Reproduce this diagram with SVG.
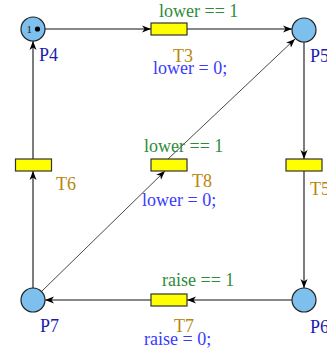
<svg xmlns="http://www.w3.org/2000/svg" width="327" height="348" viewBox="0 0 327 348">
<style>
.pl{fill:#7dbfed;stroke:#222;stroke-width:1.2}
.tr{fill:#ffff00;stroke:#333;stroke-width:1.2}
.ed{stroke:#111;stroke-width:1.1;fill:none;marker-end:url(#ah)}
.dg{stroke:#333;stroke-width:0.9;fill:none;marker-end:url(#ah)}
text{font-family:"Liberation Serif","Times New Roman",serif;font-size:18px}
.pn{fill:#1c1cb0}
.tn{fill:#b8860b}
.gd{fill:#2e8b3a}
.up{fill:#3a3aff}
</style>
<defs>
<marker id="ah" markerWidth="10" markerHeight="8" refX="9" refY="4" orient="auto" markerUnits="userSpaceOnUse">
<path d="M0,0.5 L9,4 L0,7.5 L2.5,4 z" fill="#000"/>
</marker>
</defs>
<g id="edges">
<line class="ed" x1="45" y1="29" x2="151" y2="29"/>
<line class="ed" x1="187" y1="29" x2="292" y2="29"/>
<line class="ed" x1="304" y1="42" x2="304" y2="159"/>
<line class="ed" x1="304" y1="171" x2="304" y2="288"/>
<line class="ed" x1="292" y1="300" x2="187" y2="300"/>
<line class="ed" x1="151" y1="300" x2="45" y2="300"/>
<line class="ed" x1="33" y1="288" x2="33" y2="171"/>
<line class="ed" x1="33" y1="159" x2="33" y2="41"/>
<line class="dg" x1="42" y1="291" x2="165" y2="171"/>
<line class="dg" x1="168" y1="159" x2="295" y2="39"/>
</g>
<g id="P4"><circle class="pl" cx="33" cy="29" r="12"/><text x="26.5" y="33" style="font-size:11px;fill:#222">1</text><circle cx="37.5" cy="29" r="2.6" fill="#000"/><text class="pn" x="39" y="61">P4</text></g>
<g id="P5"><circle class="pl" cx="304" cy="30" r="12"/><text class="pn" x="310" y="62">P5</text></g>
<g id="P6"><circle class="pl" cx="304" cy="300" r="12"/><text class="pn" x="310" y="333">P6</text></g>
<g id="P7"><circle class="pl" cx="33" cy="300" r="12"/><text class="pn" x="40" y="332">P7</text></g>
<g id="T3"><rect class="tr" x="151" y="23" width="36" height="12"/><text class="gd" x="159" y="17">lower == 1</text><text class="tn" x="173" y="62">T3</text><text class="up" x="153" y="74">lower = 0;</text></g>
<g id="T5"><rect class="tr" x="286" y="159" width="36" height="12"/><text class="tn" x="310" y="195">T5</text></g>
<g id="T6"><rect class="tr" x="15.5" y="159" width="36" height="12"/><text class="tn" x="56" y="190">T6</text></g>
<g id="T7"><rect class="tr" x="151" y="294" width="36" height="12"/><text class="gd" x="162" y="286">raise == 1</text><text class="tn" x="174" y="332">T7</text><text class="up" x="144" y="345">raise = 0;</text></g>
<g id="T8"><rect class="tr" x="151" y="159" width="36" height="12"/><text class="gd" x="144" y="152">lower == 1</text><text class="tn" x="192" y="187">T8</text><text class="up" x="142" y="206">lower = 0;</text></g>
</svg>
